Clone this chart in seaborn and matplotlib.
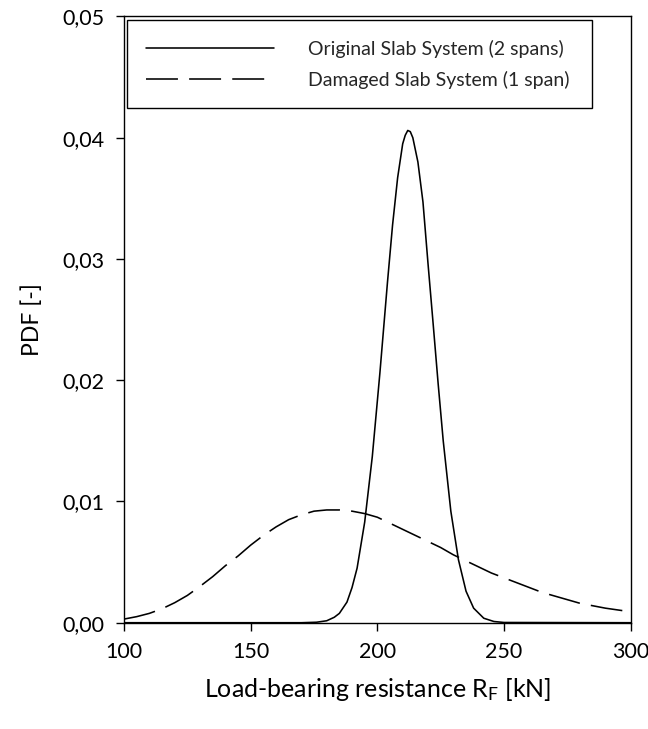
import matplotlib
matplotlib.use("Agg")
import matplotlib.pyplot as plt
import seaborn as sns
import pandas as pd

# ---- data ----
orig_x = [100, 170, 176, 180, 183, 185, 188, 190, 192, 195, 198, 201, 204, 206, 208, 210,
          211, 212, 213, 214, 216, 218, 220, 222, 224, 226, 229, 232, 235, 238, 242, 246, 250, 300]
orig_y = [0.0, 0.0, 0.00004, 0.00016, 0.00045, 0.00077, 0.0017, 0.0029, 0.0045, 0.0083, 0.0137,
          0.0206, 0.0281, 0.0328, 0.0367, 0.0395, 0.0402, 0.0406, 0.0405, 0.0400, 0.0380, 0.0347,
          0.0296, 0.0247, 0.0197, 0.0150, 0.0092, 0.0052, 0.0026, 0.0012, 0.00037, 0.0001, 0.00002, 0.0]

dam_x = [100, 105, 110, 115, 120, 125, 130, 135, 140, 145, 150, 155, 160, 165, 170, 175, 180,
         185, 190, 195, 200, 205, 210, 215, 220, 225, 230, 235, 240, 245, 250, 255, 260, 265,
         270, 275, 280, 285, 290, 295, 300]
dam_y = [0.00030, 0.00050, 0.00077, 0.00115, 0.00165, 0.00225, 0.0030, 0.0038, 0.0047, 0.0055,
         0.0064, 0.0072, 0.0079, 0.0085, 0.0089, 0.0092, 0.0093, 0.0093, 0.0092, 0.0090, 0.0087,
         0.0082, 0.0077, 0.0072, 0.0067, 0.0062, 0.0056, 0.0051, 0.0046, 0.0041, 0.0037, 0.0033,
         0.0029, 0.0025, 0.0022, 0.0019, 0.0016, 0.0014, 0.0012, 0.00105, 0.0009]

series_labels = ["Original Slab System (2 spans)", "Damaged Slab System (1 span)"]
x_ticks = [100, 150, 200, 250, 300]
y_ticks = [0.00, 0.01, 0.02, 0.03, 0.04, 0.05]
y_ticklabels = ["0,00", "0,01", "0,02", "0,03", "0,04", "0,05"]
x_label = r"Load-bearing resistance R$_\mathrm{F}$ [kN]"
y_label = "PDF [-]"

# ---- style ----
sns.set_theme(style="ticks")
plt.rcParams["font.family"] = ["Lato", "DejaVu Sans"]
plt.rcParams["mathtext.fontset"] = "custom"
plt.rcParams["mathtext.rm"] = "Lato"
plt.rcParams["mathtext.it"] = "Lato:italic"

fig = plt.figure(figsize=(6.48, 7.29), dpi=100)
ax = fig.add_axes([0.1914, 0.1458, 0.9733 - 0.1914, 0.9774 - 0.1458])

LW = 1.15
df_o = pd.DataFrame({"x": orig_x, "y": orig_y})
df_d = pd.DataFrame({"x": dam_x, "y": dam_y})
sns.lineplot(data=df_o, x="x", y="y", ax=ax, color="black", linewidth=LW,
             label=series_labels[0], sort=False)
sns.lineplot(data=df_d, x="x", y="y", ax=ax, color="black", linewidth=LW,
             label=series_labels[1], sort=False)
ax.lines[1].set_dashes((20, 7))

ax.set_xlim(100, 300)
ax.set_ylim(0, 0.05)
ax.set_xticks(x_ticks)
ax.set_xticklabels([str(t) for t in x_ticks])
ax.set_yticks(y_ticks)
ax.set_yticklabels(y_ticklabels)
ax.tick_params(axis="both", direction="out", length=6, width=1.0, color="black",
               labelsize=15.5, labelcolor="black", pad=8)
for s in ax.spines.values():
    s.set_color("black")
    s.set_linewidth(1.0)

ax.set_xlabel(x_label, fontsize=18, color="black", labelpad=10)
ax.set_ylabel(y_label, fontsize=16.5, color="black", labelpad=14)

leg = ax.legend(loc="upper left", bbox_to_anchor=(0.0053, 0.8477, 0.918, 0.1457),
                mode="expand", borderaxespad=0, frameon=True, fancybox=False,
                fontsize=14, handlelength=6.6, handletextpad=1.7,
                labelspacing=0.65, borderpad=1.0)
leg.get_frame().set_edgecolor("black")
leg.get_frame().set_linewidth(1.0)
leg.get_frame().set_alpha(1)
for line in leg.get_lines():
    line.set_linewidth(LW)
leg.get_lines()[1].set_dashes((20, 7))

fig.savefig("out.png", dpi=100)
